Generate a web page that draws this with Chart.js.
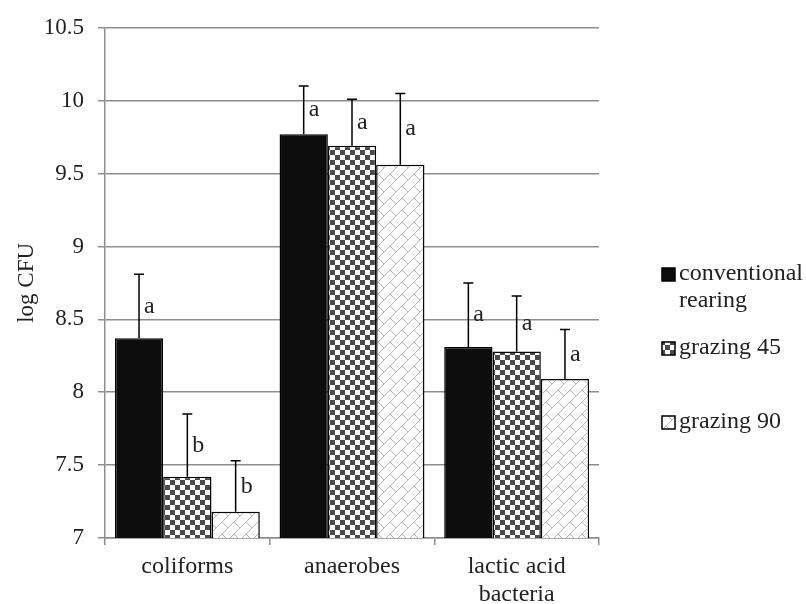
<!DOCTYPE html>
<html lang="en">
<head>
    <meta charset="UTF-8">
    <title>log CFU by rearing</title>
    <script src="https://cdn.jsdelivr.net/npm/chart.js"></script>
    <style>
        body { margin: 0; background: #fff; }
    </style>
</head>
<body>
<canvas id="cfuChart" width="806" height="604"></canvas>

<script>
    // values
    const categories = [['coliforms'], ['anaerobes'], ['lactic acid', 'bacteria']];
    const seriesNames = [['conventional', 'rearing'], ['grazing 45'], ['grazing 90']];
    const conventional = [8.37, 9.77, 8.31];
    const grazing45 = [7.42, 9.69, 8.28];
    const grazing90 = [7.18, 9.56, 8.09];
    const convErr = [0.44, 0.33, 0.44];
    const g45Err = [0.43, 0.32, 0.38];
    const g90Err = [0.35, 0.49, 0.34];
    const convLetters = ['a', 'a', 'a'];
    const g45Letters = ['b', 'a', 'a'];
    const g90Letters = ['b', 'a', 'a'];

    const serif = "'Liberation Serif', 'Times New Roman', serif";
    const textColor = '#222';
    const gridColor = '#8e8e8e';

    function checkerPattern() {
        const c = document.createElement('canvas');
        c.width = 10; c.height = 10;
        const g = c.getContext('2d');
        g.fillStyle = '#fff';
        g.fillRect(0, 0, 10, 10);
        g.fillStyle = '#4a4a4a';
        g.fillRect(0, 0, 5, 5);
        g.fillRect(5, 5, 5, 5);
        return g.createPattern(c, 'repeat');
    }

    function brickPattern() {
        const c = document.createElement('canvas');
        c.width = 12; c.height = 12;
        const g = c.getContext('2d');
        g.fillStyle = '#fff';
        g.fillRect(0, 0, 12, 12);
        g.strokeStyle = '#b8b8b8';
        g.lineWidth = 1;
        g.beginPath();
        g.moveTo(0, 12); g.lineTo(12, 0);
        g.moveTo(6, 6); g.lineTo(12, 12);
        g.stroke();
        return g.createPattern(c, 'repeat');
    }

    const fills = ['#0d0d0d', checkerPattern(), brickPattern()];

    const errorBars = {
        id: 'errorBars',
        afterDatasetsDraw(chart) {
            const ctx = chart.ctx;
            const y = chart.scales.y;
            ctx.save();
            chart.data.datasets.forEach((ds, i) => {
                chart.getDatasetMeta(i).data.forEach((bar, j) => {
                    const base = y.getPixelForValue(ds.data[j]);
                    const top = y.getPixelForValue(ds.data[j] + ds.errors[j]);
                    ctx.strokeStyle = '#000';
                    ctx.lineWidth = 1.5;
                    ctx.beginPath();
                    ctx.moveTo(bar.x, base);
                    ctx.lineTo(bar.x, top);
                    ctx.moveTo(bar.x - 5, top);
                    ctx.lineTo(bar.x + 5, top);
                    ctx.stroke();
                    ctx.fillStyle = textColor;
                    ctx.font = '24px ' + serif;
                    ctx.textAlign = 'left';
                    ctx.textBaseline = 'middle';
                    ctx.fillText(ds.letters[j], bar.x + 5, (base + top) / 2);
                });
            });
            ctx.restore();
        }
    };

    // legend on the right, with a two-line first entry
    const sideLegend = {
        id: 'sideLegend',
        afterDraw(chart) {
            const ctx = chart.ctx;
            const rows = [274, 348, 422];
            ctx.save();
            ctx.font = '24px ' + serif;
            ctx.textAlign = 'left';
            ctx.textBaseline = 'middle';
            chart.data.datasets.forEach((ds, i) => {
                const cy = rows[i];
                ctx.fillStyle = ds.backgroundColor;
                ctx.fillRect(662, cy - 6, 13, 13);
                ctx.strokeStyle = '#000';
                ctx.lineWidth = 1.5;
                ctx.strokeRect(662, cy - 6, 13, 13);
                ctx.fillStyle = textColor;
                seriesNames[i].forEach((line, k) => {
                    ctx.fillText(line, 679, cy + k * 27);
                });
            });
            ctx.restore();
        }
    };

    const tickFont = { family: serif, size: 23 };
    const labelFont = { family: serif, size: 24 };

    new Chart(document.getElementById('cfuChart'), {
        type: 'bar',
        data: {
            labels: categories,
            datasets: [
                { label: 'conventional rearing', data: conventional, errors: convErr, letters: convLetters },
                { label: 'grazing 45', data: grazing45, errors: g45Err, letters: g45Letters },
                { label: 'grazing 90', data: grazing90, errors: g90Err, letters: g90Letters }
            ].map((ds, i) => Object.assign(ds, {
                backgroundColor: fills[i],
                borderColor: '#000',
                borderWidth: 1.5,
                categoryPercentage: 0.88,
                barPercentage: 1.0
            }))
        },
        options: {
            responsive: false,
            animation: false,
            layout: { padding: { top: 25, right: 207, bottom: 0, left: 0 } },
            plugins: {
                legend: { display: false },
                tooltip: { enabled: false }
            },
            scales: {
                x: {
                    grid: { offset: true, drawOnChartArea: false, color: gridColor, lineWidth: 1.5, tickLength: 7 },
                    border: { color: gridColor, width: 1.5 },
                    ticks: { font: labelFont, color: textColor, padding: 7, maxRotation: 0, autoSkip: false },
                    afterFit: s => { s.height = 66; }
                },
                y: {
                    min: 7,
                    max: 10.5,
                    ticks: { stepSize: 0.5, font: tickFont, color: textColor, padding: 14, callback: v => String(v) },
                    grid: { color: gridColor, lineWidth: 1.5, tickLength: 7 },
                    border: { color: gridColor, width: 1.5 },
                    title: { display: true, text: 'log CFU', font: tickFont, color: textColor, padding: { top: 13, bottom: 0 } },
                    afterFit: s => { s.width = 105; }
                }
            }
        },
        plugins: [errorBars, sideLegend]
    });
</script>
</body>
</html>
